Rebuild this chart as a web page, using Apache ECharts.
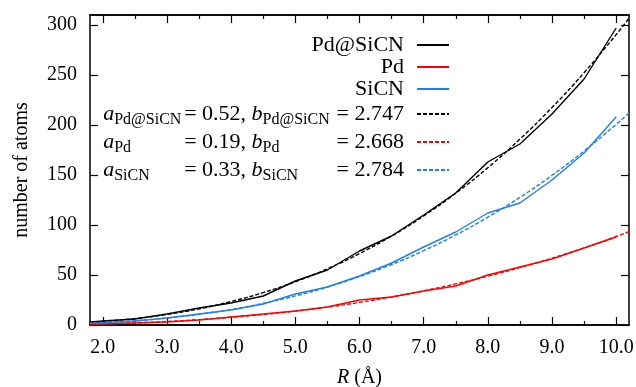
<!DOCTYPE html>
<html>
<head>
<meta charset="utf-8">
<script src="https://cdn.jsdelivr.net/npm/echarts@6/dist/echarts.min.js"></script>
<style>
  html, body { margin: 0; padding: 0; background: #fff; }
  #main { width: 636px; height: 387px; }
</style>
</head>
<body>
<div id="main"></div>
<script>
// radius values of the simulation points and of the fitted curves
const rData = [1.8, 2.0, 2.5, 3.0, 3.5, 4.0, 4.5, 5.0, 5.5, 6.0, 6.5, 7.0, 7.5, 8.0, 8.5, 9.0, 9.5, 10.0];
const rFit = [1.8, 2.0, 2.5, 3.0, 3.5, 4.0, 4.5, 5.0, 5.5, 6.0, 6.5, 7.0, 7.5, 8.0, 8.5, 9.0, 9.5, 10.0, 10.2];

// number of atoms
const pdSicn = [3, 4, 6, 11, 17, 22, 29, 44, 55, 74, 89, 110, 132, 163, 181, 211, 246, 297];
const pd = [1, 1, 2, 3, 5, 8, 11, 14, 18, 25, 28, 34, 39, 50, 58, 66, 77, 88];
const sicn = [2, 2.5, 4, 7, 11, 15, 21, 31, 38, 49, 62, 78, 93, 112, 122, 145, 172, 208];

// dashed fit curves a*R^b
const fitPdSicn = [2.6, 3.5, 6.4, 10.6, 16.2, 23.5, 32.4, 43.3, 56.2, 71.4, 89.0, 109.0, 131.8, 157.3, 185.9, 217.5, 252.3, 290.4, 306.8];
const fitPd = [0.9, 1.2, 2.2, 3.6, 5.4, 7.7, 10.5, 13.9, 17.9, 22.6, 28.0, 34.2, 41.1, 48.8, 57.4, 66.8, 77.1, 88.5, 93.3];
const fitSicn = [1.7, 2.3, 4.2, 7.0, 10.8, 15.6, 21.7, 29.1, 38.0, 48.4, 60.5, 74.3, 90.1, 107.8, 127.6, 149.7, 174.0, 200.6, 212.0];

const xMajor = [2, 3, 4, 5, 6, 7, 8, 9, 10];
const xMinor = [2.5, 3.5, 4.5, 5.5, 6.5, 7.5, 8.5, 9.5];
const yTicks = [0, 50, 100, 150, 200, 250, 300];

const fitParams = {
    fit1: { sub: 'Pd@SiCN', a: '0.52', b: '2.747' },
    fit2: { sub: 'Pd', a: '0.19', b: '2.668' },
    fit3: { sub: 'SiCN', a: '0.33', b: '2.784' }
};

const FONT = 'Liberation Serif';
const BLACK = '#000000';
const RED = '#ff0000';
const BLUE = '#1e80f0';

function zip(xs, ys) {
    return ys.map((y, i) => [xs[i], y]);
}

function frameAxis(position, ticks, len, showLabel) {
    return {
        type: 'value',
        position: position,
        min: 1.8,
        max: 10.2,
        axisLine: { show: true, onZero: false, lineStyle: { color: BLACK, width: 1.5 } },
        axisTick: { show: true, inside: true, length: len, customValues: ticks, lineStyle: { color: BLACK, width: 1.2 } },
        axisLabel: showLabel ? {
            show: true,
            customValues: xMajor,
            margin: 13,
            color: BLACK,
            fontFamily: FONT,
            fontSize: 20,
            formatter: v => v.toFixed(1)
        } : { show: false },
        splitLine: { show: false }
    };
}

const chartDom = document.getElementById('main');
const myChart = echarts.init(chartDom);

const main = { fontFamily: FONT, fontSize: 22, lineHeight: 24, color: BLACK, align: 'left' };
const sub = { fontFamily: FONT, fontSize: 16, lineHeight: 12, padding: [12, 0, 0, 0], color: BLACK, align: 'left' };

const option = {
    animation: false,
    backgroundColor: '#ffffff',
    grid: { left: 90, right: 7, top: 15, bottom: 62, outerBoundsMode: 'none' },
    legend: {
        orient: 'vertical',
        align: 'right',
        right: 186,
        top: 34,
        padding: 0,
        itemGap: 0,
        itemWidth: 32,
        itemHeight: 24,
        selectedMode: false,
        itemStyle: { color: 'rgba(0,0,0,0)', borderWidth: 0, opacity: 0 },
        data: ['Pd@SiCN', 'Pd', 'SiCN', 'fit1', 'fit2', 'fit3'],
        formatter: function (name) {
            const p = fitParams[name];
            if (!p) {
                return '{m|' + name + '}';
            }
            return '{ia|a}{s1|' + p.sub + '}{e|= ' + p.a + ', }{ib|b}{s2|' + p.sub + '}{f|= ' + p.b + '}';
        },
        textStyle: {
            color: BLACK,
            fontFamily: FONT,
            fontSize: 22,
            padding: [0, 8, 0, 0],
            rich: {
                m: main,
                ia: Object.assign({}, main, { fontStyle: 'italic' }),
                ib: Object.assign({}, main, { fontStyle: 'italic' }),
                e: main,
                f: main,
                s1: Object.assign({}, sub, { width: 70 }),
                s2: Object.assign({}, sub, { width: 74 })
            }
        }
    },
    xAxis: [
        Object.assign(frameAxis('bottom', xMajor, 8, true), {
            name: '{i|R} (Å)',
            nameLocation: 'middle',
            nameGap: 43,
            nameTextStyle: {
                color: BLACK,
                fontFamily: FONT,
                fontSize: 20,
                rich: { i: { fontFamily: FONT, fontSize: 20, fontStyle: 'italic', color: BLACK } }
            }
        }),
        frameAxis('bottom', xMinor, 4, false),
        frameAxis('top', xMajor, 8, false),
        frameAxis('top', xMinor, 4, false)
    ],
    yAxis: [
        {
            type: 'value',
            position: 'left',
            min: 0,
            max: 310,
            name: 'number of atoms',
            nameLocation: 'middle',
            nameGap: 58,
            nameTextStyle: { color: BLACK, fontFamily: FONT, fontSize: 20 },
            axisLine: { show: true, lineStyle: { color: BLACK, width: 1.5 } },
            axisTick: { show: true, inside: true, length: 8, customValues: yTicks, lineStyle: { color: BLACK, width: 1.2 } },
            axisLabel: { customValues: yTicks, margin: 13, color: BLACK, fontFamily: FONT, fontSize: 20 },
            splitLine: { show: false }
        },
        {
            type: 'value',
            position: 'right',
            min: 0,
            max: 310,
            axisLine: { show: true, lineStyle: { color: BLACK, width: 1.5 } },
            axisTick: { show: true, inside: true, length: 8, customValues: yTicks, lineStyle: { color: BLACK, width: 1.2 } },
            axisLabel: { show: false },
            splitLine: { show: false }
        }
    ],
    series: [
        { name: 'Pd@SiCN', type: 'line', symbol: 'none', data: zip(rData, pdSicn), lineStyle: { color: BLACK, width: 1.4 }, itemStyle: { color: BLACK } },
        { name: 'Pd', type: 'line', symbol: 'none', data: zip(rData, pd), lineStyle: { color: RED, width: 1.4 }, itemStyle: { color: RED } },
        { name: 'SiCN', type: 'line', symbol: 'none', data: zip(rData, sicn), lineStyle: { color: BLUE, width: 1.4 }, itemStyle: { color: BLUE } },
        { name: 'fit1', type: 'line', symbol: 'none', smooth: true, data: zip(rFit, fitPdSicn), lineStyle: { color: BLACK, width: 1.4, type: [4, 2] }, itemStyle: { color: BLACK } },
        { name: 'fit2', type: 'line', symbol: 'none', smooth: true, data: zip(rFit, fitPd), lineStyle: { color: RED, width: 1.4, type: [4, 2] }, itemStyle: { color: RED } },
        { name: 'fit3', type: 'line', symbol: 'none', smooth: true, data: zip(rFit, fitSicn), lineStyle: { color: BLUE, width: 1.4, type: [4, 2] }, itemStyle: { color: BLUE } }
    ]
};

option && myChart.setOption(option);
</script>
</body>
</html>
